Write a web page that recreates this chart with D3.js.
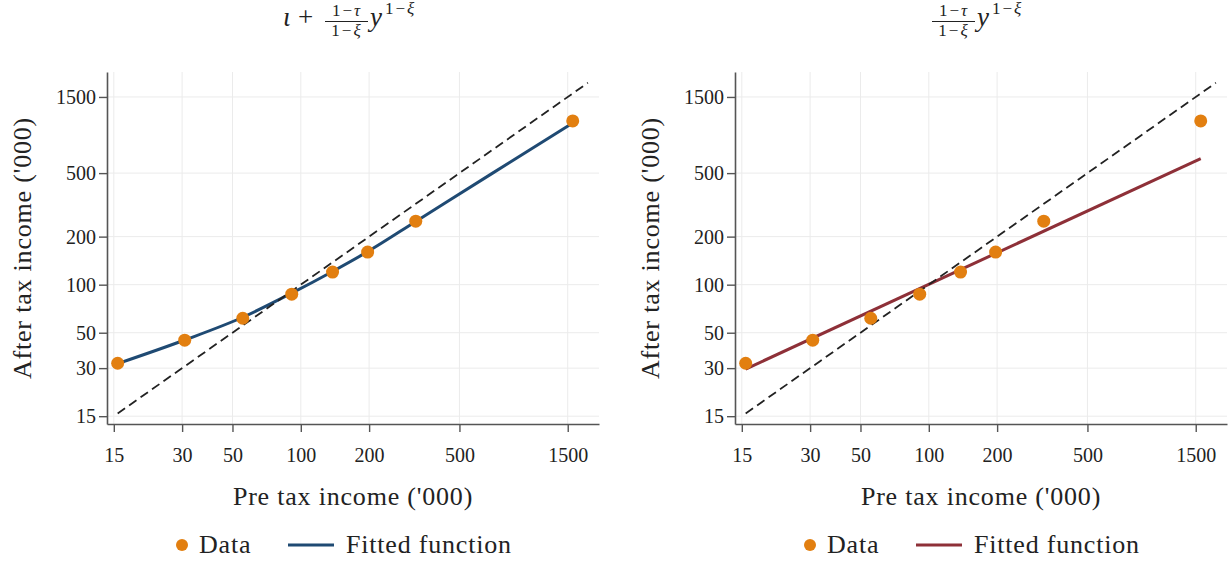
<!DOCTYPE html>
<html>
<head>
<meta charset="utf-8">
<script src="https://cdn.jsdelivr.net/npm/d3@7"></script>
<style>
  body { margin: 0; background: #fff; }
  svg text { font-family: "Liberation Serif", "Times New Roman", Times, "DejaVu Serif", serif !important; fill: #222; }
</style>
</head>
<body>
<div id="chart"></div>
<script>
// Daten, Einkommen in Tausend
var preTax   = [15.6, 30.8, 55.5, 91.2, 138, 197, 321, 1578];
var afterTax = [32.2, 44.9, 61.6, 87.2, 120, 160, 250, 1062];

// gefittete Funktion links: iota + (1-tau)/(1-xi) y^(1-xi)
var fitLeftX = [15.6, 30.8, 55.5, 91.2, 138, 197, 321, 700, 1578];
var fitLeftY = [32.0, 45.0, 62.5, 88.5, 121, 161, 249, 500, 1030];

// gefittete Funktion rechts: (1-tau)/(1-xi) y^(1-xi)
var fitRightX = [15.6, 1578];
var fitRightY = [29.6, 617];

// 45-Grad Linie
var diagX = [15.6, 1840];

var xTicks = [15, 30, 50, 100, 200, 500, 1500];
var yTicks = [15, 30, 50, 100, 200, 500, 1500];

var width = 1231;
var height = 561;
var serif = "'Liberation Serif', 'Times New Roman', Times, 'DejaVu Serif', serif";

var svg = d3.select("#chart").append("svg")
  .attr("width", width)
  .attr("height", height)
  .attr("font-family", serif)
  .style("font-family", serif);

svg.append("rect")
  .attr("width", width)
  .attr("height", height)
  .attr("fill", "#fff");

var dotColor = "#e27f10";

// "1−x" mit etwas Abstand um das Minus (wie im Mathe-Satz)
function mathTerm(txt, sym) {
  txt.append("tspan").text("1");
  txt.append("tspan").attr("dx", 2).text("−");
  txt.append("tspan").attr("dx", 2).style("font-style", "italic").text(sym);
}

function drawTitle(g, cx, withIota) {
  var t = g.append("g");
  var xpos = 0;
  if (withIota) {
    t.append("text").attr("x", 0).attr("y", 26)
      .style("font-style", "italic").style("font-size", "27px").text("ι");
    t.append("text").attr("x", 15).attr("y", 26)
      .style("font-size", "27px").text("+");
    xpos = 42;
  }
  // Bruch
  var num = t.append("text").attr("x", xpos + 21).attr("y", 16)
    .attr("text-anchor", "middle").style("font-size", "17px");
  mathTerm(num, "τ");
  t.append("line")
    .attr("x1", xpos).attr("x2", xpos + 43)
    .attr("y1", 21.5).attr("y2", 21.5)
    .attr("stroke", "#222").attr("stroke-width", 1);
  var den = t.append("text").attr("x", xpos + 21).attr("y", 36)
    .attr("text-anchor", "middle").style("font-size", "17px");
  mathTerm(den, "ξ");
  t.append("text").attr("x", xpos + 45).attr("y", 26)
    .style("font-style", "italic").style("font-size", "27px").text("y");
  var sup = t.append("text").attr("x", xpos + 60).attr("y", 14)
    .style("font-size", "17px");
  mathTerm(sup, "ξ");
  var total = xpos + 94;
  t.attr("transform", "translate(" + (cx - total / 2) + ",0)");
}

function drawPanel(offsetX, fitX, fitY, fitColor, withIota) {
  var g = svg.append("g").attr("transform", "translate(" + offsetX + ",0)");

  var x = d3.scaleLog().domain([14, 2060]).range([107, 599]);
  var y = d3.scaleLog().domain([13.4, 2150]).range([424, 72]);

  // Gitterlinien
  g.append("g").selectAll("line").data(xTicks).enter().append("line")
    .attr("x1", function (d) { return x(d); })
    .attr("x2", function (d) { return x(d); })
    .attr("y1", 72).attr("y2", 424)
    .attr("stroke", "#ebebeb").attr("stroke-width", 1);
  g.append("g").selectAll("line").data(yTicks).enter().append("line")
    .attr("x1", 107).attr("x2", 599)
    .attr("y1", function (d) { return y(d); })
    .attr("y2", function (d) { return y(d); })
    .attr("stroke", "#ebebeb").attr("stroke-width", 1);

  // Achsen
  var xAxis = d3.axisBottom(x).tickValues(xTicks).tickFormat(d3.format("d"))
    .tickSize(8).tickSizeOuter(0).tickPadding(16);
  var yAxis = d3.axisLeft(y).tickValues(yTicks).tickFormat(d3.format("d"))
    .tickSize(8).tickSizeOuter(0).tickPadding(3);

  var gx = g.append("g").attr("transform", "translate(0,424)").call(xAxis);
  var gy = g.append("g").attr("transform", "translate(107,0)").call(yAxis);
  [gx, gy].forEach(function (a) {
    a.attr("font-family", serif).attr("font-size", null);
    a.select(".domain").attr("stroke", "#555").attr("stroke-width", 1.6);
    a.selectAll(".tick line").attr("stroke", "#555").attr("stroke-width", 1.4);
    a.selectAll(".tick text").style("font-size", "20px").attr("fill", "#222");
  });

  // gefittete Funktion
  var line = d3.line()
    .x(function (d) { return x(d[0]); })
    .y(function (d) { return y(d[1]); })
    .curve(d3.curveMonotoneX);
  g.append("path")
    .datum(fitX.map(function (v, i) { return [v, fitY[i]]; }))
    .attr("d", line)
    .attr("fill", "none")
    .attr("stroke", fitColor)
    .attr("stroke-width", 3);

  // 45-Grad Linie
  g.append("path")
    .datum(diagX.map(function (v) { return [v, v]; }))
    .attr("d", d3.line().x(function (d) { return x(d[0]); }).y(function (d) { return y(d[1]); }))
    .attr("fill", "none")
    .attr("stroke", "#222")
    .attr("stroke-width", 1.8)
    .attr("stroke-dasharray", "9,5");

  // Datenpunkte
  g.selectAll(".dot")
    .data(preTax.map(function (v, i) { return [v, afterTax[i]]; }))
    .enter().append("circle")
    .attr("class", "dot")
    .attr("cx", function (d) { return x(d[0]); })
    .attr("cy", function (d) { return y(d[1]); })
    .attr("r", 6.5)
    .attr("fill", dotColor);

  // Achsentitel
  g.append("text")
    .attr("x", 353).attr("y", 505)
    .attr("text-anchor", "middle")
    .style("font-size", "26px").style("letter-spacing", "0.8px")
    .text("Pre tax income ('000)");
  g.append("text")
    .attr("transform", "translate(31,248) rotate(-90)")
    .attr("text-anchor", "middle")
    .style("font-size", "26px").style("letter-spacing", "0.8px")
    .text("After tax income ('000)");

  // Legende
  g.append("circle").attr("cx", 182).attr("cy", 545).attr("r", 6).attr("fill", dotColor);
  g.append("text").attr("x", 199).attr("y", 553)
    .style("font-size", "26px").style("letter-spacing", "0.8px").text("Data");
  g.append("line").attr("x1", 288).attr("x2", 334).attr("y1", 545).attr("y2", 545)
    .attr("stroke", fitColor).attr("stroke-width", 3);
  g.append("text").attr("x", 346).attr("y", 553)
    .style("font-size", "26px").style("letter-spacing", "0.8px").text("Fitted function");

  drawTitle(g, 351, withIota);
}

drawPanel(0, fitLeftX, fitLeftY, "#1f4a73", true);
drawPanel(628, fitRightX, fitRightY, "#8e3038", false);
</script>
</body>
</html>
